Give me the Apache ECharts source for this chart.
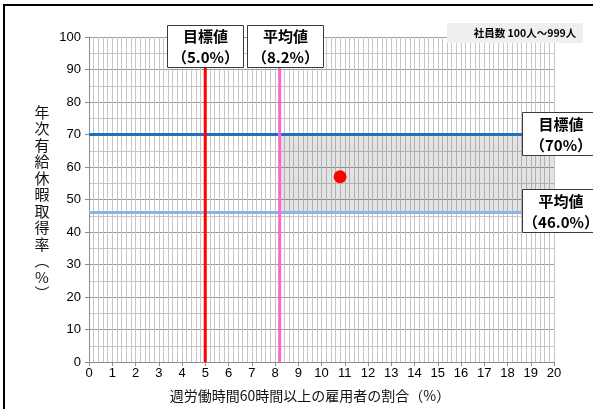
<!DOCTYPE html>
<html>
<head>
<meta charset="utf-8">
<script src="https://cdn.jsdelivr.net/npm/echarts@6/dist/echarts.min.js"></script>
<style>
  html, body { margin: 0; padding: 0; background: #fff; }
  #chart { width: 593px; height: 409px; }
</style>
</head>
<body>
<div id="chart"></div>
<script>
// Company result: [share of employees working 60h+/week (%), paid-leave uptake (%)]
const companyPoints = [[10.8, 57]];

// Reference values
const targetOvertimeShare = 5.0;
const averageOvertimeShare = 8.2;
const targetLeaveRate = 70;
const averageLeaveRate = 46.0;

// Axis ranges
const xRange = [0, 20];
const yRange = [0, 100];

// Texts
const xTitle = '週労働時間60時間以上の雇用者の割合（%）';
const yTitleChars = ['年', '次', '有', '給', '休', '暇', '取', '得', '率', '︵', '%', '︶'];
const segmentLabel = '社員数 100人～999人';
const targetName = '目標値';
const averageName = '平均値';

const baseFont = '"Liberation Sans", "Noto Sans CJK JP", sans-serif';
const cjkFont = '"Noto Sans CJK JP", "Liberation Sans", sans-serif';

const chart = echarts.init(document.getElementById('chart'), null, { renderer: 'canvas' });

const option = {
  animation: false,
  backgroundColor: '#fff',
  grid: { left: 89, right: 39, top: 37, bottom: 47 },
  xAxis: {
    type: 'value',
    min: xRange[0], max: xRange[1], interval: 1,
    axisLine: { show: true, lineStyle: { color: '#8c8c8c', width: 1 } },
    axisTick: { show: true, length: 4, lineStyle: { color: '#8c8c8c' } },
    axisLabel: { color: '#000', fontSize: 13, margin: 5, fontFamily: baseFont },
    splitLine: { show: true, lineStyle: { color: '#c6c6c6', width: 1 } },
    minorTick: { show: false, splitNumber: 5 },
    minorSplitLine: { show: true, lineStyle: { color: '#c6c6c6', width: 1 } }
  },
  yAxis: {
    type: 'value',
    min: yRange[0], max: yRange[1], interval: 10,
    axisLine: { show: true, lineStyle: { color: '#8c8c8c', width: 1 } },
    axisTick: { show: true, length: 4, lineStyle: { color: '#8c8c8c' } },
    axisLabel: { color: '#000', fontSize: 13, margin: 8, fontFamily: baseFont },
    splitLine: { show: true, lineStyle: { color: '#9a9a9a', width: 1 } },
    minorTick: { show: false, splitNumber: 2 },
    minorSplitLine: { show: true, lineStyle: { color: '#c6c6c6', width: 1 } }
  },
  series: [
    {
      name: averageName + '(取得率)',
      type: 'line',
      data: [[xRange[0], averageLeaveRate], [xRange[1], averageLeaveRate]],
      symbol: 'none',
      lineStyle: { color: '#8db4e2', width: 3 },
      markArea: {
        silent: true,
        itemStyle: { color: 'rgba(0,0,0,0.11)' },
        data: [[
          { coord: [averageOvertimeShare, averageLeaveRate] },
          { coord: [xRange[1], targetLeaveRate] }
        ]]
      },
      z: 2
    },
    {
      name: targetName + '(取得率)',
      type: 'line',
      data: [[xRange[0], targetLeaveRate], [xRange[1], targetLeaveRate]],
      symbol: 'none',
      lineStyle: { color: '#1f6fbf', width: 3 },
      z: 3
    },
    {
      name: targetName + '(長時間労働)',
      type: 'line',
      data: [[targetOvertimeShare, yRange[0]], [targetOvertimeShare, yRange[1]]],
      symbol: 'none',
      lineStyle: { color: '#ff0000', width: 3 },
      z: 4
    },
    {
      name: averageName + '(長時間労働)',
      type: 'line',
      data: [[averageOvertimeShare, yRange[0]], [averageOvertimeShare, yRange[1]]],
      symbol: 'none',
      lineStyle: { color: '#ff66cc', width: 3 },
      z: 4
    },
    {
      name: '自社',
      type: 'scatter',
      data: companyPoints,
      symbol: 'circle',
      symbolSize: 13,
      itemStyle: { color: '#ff0000', opacity: 1 },
      z: 10
    }
  ]
};

chart.setOption(option);

const toPx = (pt) => chart.convertToPixel({ gridIndex: 0 }, pt);

function labelBox(left, top, w, h, lines) {
  return {
    type: 'group', x: left, y: top, z: 100,
    children: [
      { type: 'rect', shape: { x: 0.5, y: 0.5, width: w, height: h },
        style: { fill: '#fff', stroke: '#3a3a3a', lineWidth: 1 }, z: 100 },
      { type: 'text', x: w / 2 + 0.5, y: h / 2 + 1,
        style: { text: lines.join('\n'), fill: '#000', font: 'bold 15px ' + cjkFont,
                 align: 'center', verticalAlign: 'middle', lineHeight: 21 }, z: 101 }
    ]
  };
}

const pctText = (v, digits) => '（' + v.toFixed(digits) + '%）';

// Boxes above the vertical reference lines
const vBoxW = 76, vBoxH = 42, vBoxTop = 25;
const targetX = toPx([targetOvertimeShare, 0])[0];
const avgXraw = toPx([averageOvertimeShare, 0])[0];
const box1Left = Math.round(targetX - vBoxW / 2);
const box2Left = Math.max(Math.round(avgXraw - vBoxW / 2), box1Left + vBoxW + 4);

// Boxes at the right end of the horizontal reference lines
const hBoxW = 77, hBoxH = 43, hBoxLeft = 522;
const targetY = toPx([0, targetLeaveRate])[1];
const avgY = toPx([0, averageLeaveRate])[1];

chart.setOption({
  graphic: [
    labelBox(box1Left, vBoxTop, vBoxW, vBoxH, [targetName, pctText(targetOvertimeShare, 1)]),
    labelBox(box2Left, vBoxTop, vBoxW, vBoxH, [averageName, pctText(averageOvertimeShare, 1)]),
    labelBox(hBoxLeft, Math.round(targetY - hBoxH / 2 - 1), hBoxW, hBoxH, [targetName, pctText(targetLeaveRate, 0)]),
    labelBox(hBoxLeft, Math.round(avgY - hBoxH / 2 - 2), hBoxW, hBoxH, [averageName, pctText(averageLeaveRate, 1)]),
    // company-size tag
    { type: 'rect', shape: { x: 447, y: 23, width: 136, height: 20 },
      style: { fill: '#efefef' }, z: 90 },
    { type: 'text', x: 525, y: 33.5, z: 91,
      style: { text: segmentLabel, fill: '#000', font: 'bold 10.5px ' + cjkFont,
               align: 'center', verticalAlign: 'middle' } },
    // axis titles
    { type: 'text', x: 310, y: 396, z: 50,
      style: { text: xTitle, fill: '#111', font: '14px ' + cjkFont,
               align: 'center', verticalAlign: 'middle' } },
    { type: 'text', x: 42, y: 203, z: 50,
      style: { text: yTitleChars.join('\n'), fill: '#111', font: '15px ' + cjkFont,
               align: 'center', verticalAlign: 'middle', lineHeight: 16.5 } },
    // outer frame
    { type: 'rect', shape: { x: 4, y: 5, width: 700, height: 500 },
      style: { fill: 'none', stroke: '#000', lineWidth: 2 }, z: 120 }
  ]
});
</script>
</body>
</html>
